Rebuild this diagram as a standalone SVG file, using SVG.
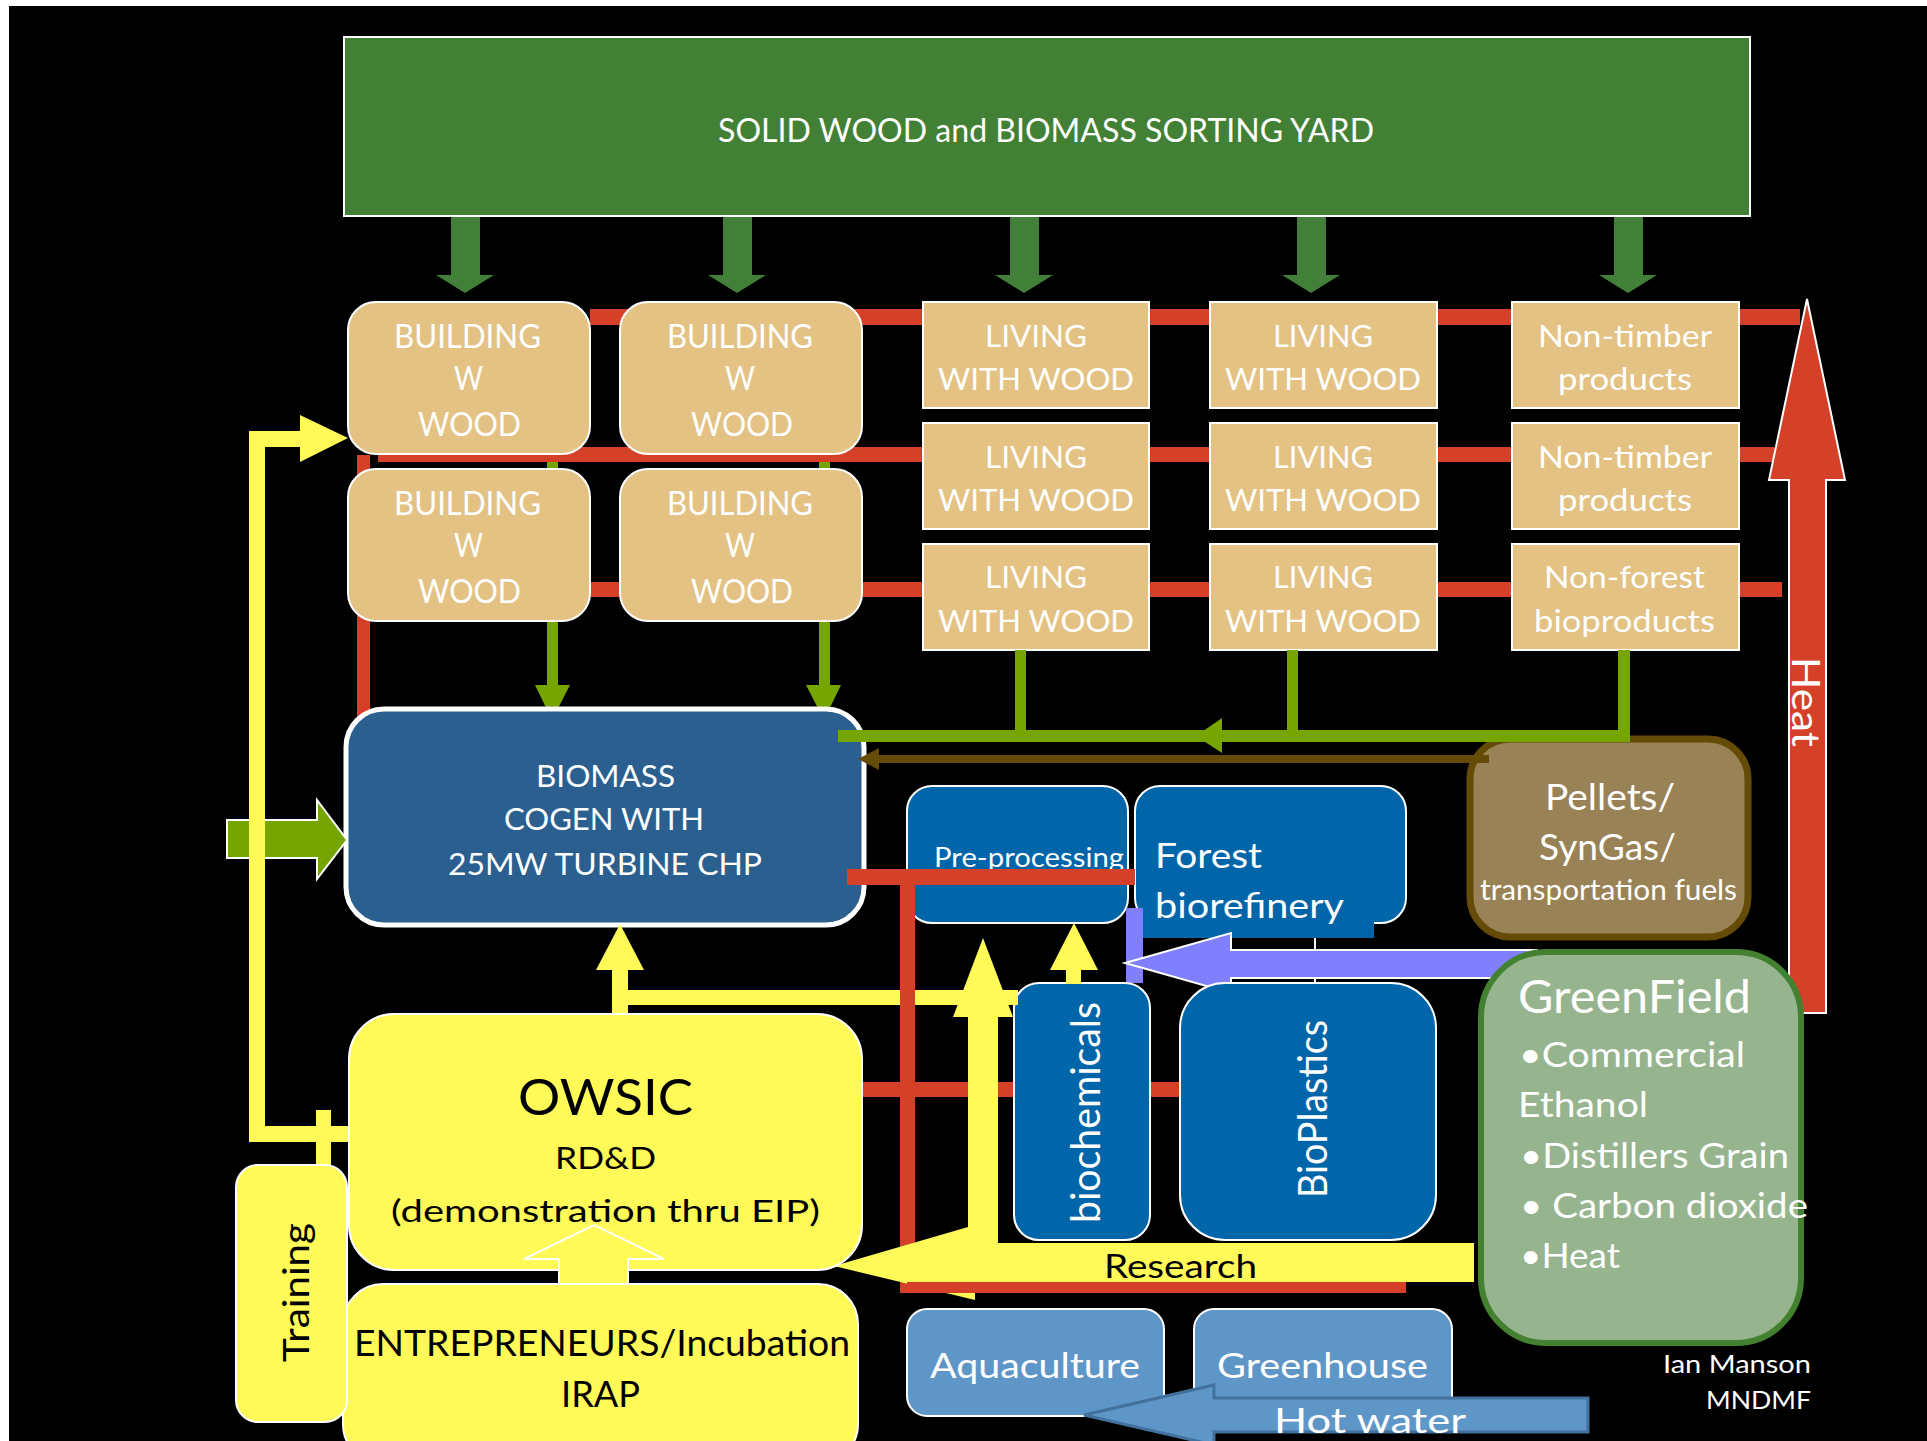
<svg xmlns="http://www.w3.org/2000/svg" width="1927" height="1441" viewBox="0 0 1927 1441">
<style>
text{font-family:Lato,"Open Sans","Liberation Sans",sans-serif;}
.w{fill:#fff;}
.k{fill:#000;}
.tan{fill:#E3C283;stroke:#fff;stroke-width:2;}
.blue{fill:#0065A9;stroke:#fff;stroke-width:2;}
.lblue{fill:#5F96C8;stroke:#fff;stroke-width:2;}
.yel{fill:#FFFA57;}
.red{fill:#D44128;}
.olive{fill:#76A500;}
.dg{fill:#42803A;}
</style>
<rect x="0" y="0" width="1927" height="1441" fill="#fff"/>
<rect x="9" y="6" width="1918" height="1435" fill="#000"/>

<g id="connectors">
  <!-- green yard arrows -->
  <g class="dg">
    <polygon points="451,216 480,216 480,275 494,275 465,293 436,275 451,275"/>
    <polygon points="723,216 752,216 752,275 766,275 737,293 708,275 723,275"/>
    <polygon points="1010,216 1039,216 1039,275 1053,275 1024,293 995,275 1010,275"/>
    <polygon points="1297,216 1326,216 1326,275 1340,275 1311,293 1282,275 1297,275"/>
    <polygon points="1614,216 1643,216 1643,275 1657,275 1628,293 1599,275 1614,275"/>
  </g>
  <!-- olive verticals from building boxes -->
  <g class="olive">
    <rect x="547" y="450" width="11" height="240"/>
    <polygon points="535,685 570,685 552,720"/>
    <rect x="819" y="450" width="11" height="240"/>
    <polygon points="806,685 841,685 824,720"/>
  </g>
  <!-- red heat lines -->
  <g class="red">
    <rect x="590" y="309" width="1210" height="16"/>
    <rect x="378" y="447" width="1412" height="15"/>
    <rect x="590" y="582" width="1192" height="15"/>
    <rect x="357" y="455" width="13" height="270"/>
  </g>
</g>

<g id="yard">
  <rect x="344" y="37" width="1406" height="179" fill="#428035" stroke="#fff" stroke-width="2"/>
  <text class="w" x="718" y="142" font-size="33" textLength="656" lengthAdjust="spacingAndGlyphs">SOLID WOOD and BIOMASS SORTING YARD</text>
</g>

<g id="building1">
  <rect class="tan" x="348" y="302" width="242" height="152" rx="28"/>
  <text class="w" font-size="32"><tspan x="394" y="348" textLength="147" lengthAdjust="spacingAndGlyphs">BUILDING</tspan><tspan x="454" y="390" textLength="29" lengthAdjust="spacingAndGlyphs">W</tspan><tspan x="418" y="436" textLength="103" lengthAdjust="spacingAndGlyphs">WOOD</tspan></text>
</g>
<g id="building2">
  <rect class="tan" x="620" y="302" width="242" height="152" rx="28"/>
  <text class="w" font-size="32"><tspan x="667" y="348" textLength="146" lengthAdjust="spacingAndGlyphs">BUILDING</tspan><tspan x="725" y="390" textLength="30" lengthAdjust="spacingAndGlyphs">W</tspan><tspan x="691" y="436" textLength="102" lengthAdjust="spacingAndGlyphs">WOOD</tspan></text>
</g>
<g id="building3">
  <rect class="tan" x="348" y="469" width="242" height="152" rx="28"/>
  <text class="w" font-size="32"><tspan x="394" y="515" textLength="147" lengthAdjust="spacingAndGlyphs">BUILDING</tspan><tspan x="454" y="557" textLength="29" lengthAdjust="spacingAndGlyphs">W</tspan><tspan x="418" y="603" textLength="103" lengthAdjust="spacingAndGlyphs">WOOD</tspan></text>
</g>
<g id="building4">
  <rect class="tan" x="620" y="469" width="242" height="152" rx="28"/>
  <text class="w" font-size="32"><tspan x="667" y="515" textLength="146" lengthAdjust="spacingAndGlyphs">BUILDING</tspan><tspan x="725" y="557" textLength="30" lengthAdjust="spacingAndGlyphs">W</tspan><tspan x="691" y="603" textLength="102" lengthAdjust="spacingAndGlyphs">WOOD</tspan></text>
</g>

<g id="living1">
  <rect class="tan" x="923" y="302" width="226" height="106"/>
  <text class="w" font-size="30"><tspan x="985" y="347" textLength="102" lengthAdjust="spacingAndGlyphs">LIVING</tspan><tspan x="938" y="390" textLength="196" lengthAdjust="spacingAndGlyphs">WITH WOOD</tspan></text>
</g>
<g id="living2">
  <rect class="tan" x="1210" y="302" width="227" height="106"/>
  <text class="w" font-size="30"><tspan x="1273" y="347" textLength="100" lengthAdjust="spacingAndGlyphs">LIVING</tspan><tspan x="1225" y="390" textLength="196" lengthAdjust="spacingAndGlyphs">WITH WOOD</tspan></text>
</g>
<g id="nontimber1">
  <rect class="tan" x="1512" y="302" width="227" height="106"/>
  <text class="w" font-size="30"><tspan x="1538" y="347" textLength="174" lengthAdjust="spacingAndGlyphs">Non-timber</tspan><tspan x="1558" y="390" textLength="134" lengthAdjust="spacingAndGlyphs">products</tspan></text>
</g>
<g id="living3">
  <rect class="tan" x="923" y="423" width="226" height="106"/>
  <text class="w" font-size="30"><tspan x="985" y="468" textLength="102" lengthAdjust="spacingAndGlyphs">LIVING</tspan><tspan x="938" y="511" textLength="196" lengthAdjust="spacingAndGlyphs">WITH WOOD</tspan></text>
</g>
<g id="living4">
  <rect class="tan" x="1210" y="423" width="227" height="106"/>
  <text class="w" font-size="30"><tspan x="1273" y="468" textLength="100" lengthAdjust="spacingAndGlyphs">LIVING</tspan><tspan x="1225" y="511" textLength="196" lengthAdjust="spacingAndGlyphs">WITH WOOD</tspan></text>
</g>
<g id="nontimber2">
  <rect class="tan" x="1512" y="423" width="227" height="106"/>
  <text class="w" font-size="30"><tspan x="1538" y="468" textLength="174" lengthAdjust="spacingAndGlyphs">Non-timber</tspan><tspan x="1558" y="511" textLength="134" lengthAdjust="spacingAndGlyphs">products</tspan></text>
</g>
<g id="living5">
  <rect class="tan" x="923" y="544" width="226" height="106"/>
  <text class="w" font-size="30"><tspan x="985" y="588" textLength="102" lengthAdjust="spacingAndGlyphs">LIVING</tspan><tspan x="938" y="632" textLength="196" lengthAdjust="spacingAndGlyphs">WITH WOOD</tspan></text>
</g>
<g id="living6">
  <rect class="tan" x="1210" y="544" width="227" height="106"/>
  <text class="w" font-size="30"><tspan x="1273" y="588" textLength="100" lengthAdjust="spacingAndGlyphs">LIVING</tspan><tspan x="1225" y="632" textLength="196" lengthAdjust="spacingAndGlyphs">WITH WOOD</tspan></text>
</g>
<g id="nonforest">
  <rect class="tan" x="1512" y="544" width="227" height="106"/>
  <text class="w" font-size="30"><tspan x="1544" y="588" textLength="161" lengthAdjust="spacingAndGlyphs">Non-forest</tspan><tspan x="1534" y="632" textLength="181" lengthAdjust="spacingAndGlyphs">bioproducts</tspan></text>
</g>

<g id="biomass">
  <rect x="346" y="709" width="518" height="216" rx="38" fill="#2A5F8F" stroke="#fff" stroke-width="5"/>
  <text class="w" font-size="30"><tspan x="536" y="787" textLength="139" lengthAdjust="spacingAndGlyphs">BIOMASS</tspan><tspan x="504" y="830" textLength="200" lengthAdjust="spacingAndGlyphs">COGEN WITH</tspan><tspan x="448" y="875" textLength="314" lengthAdjust="spacingAndGlyphs">25MW TURBINE CHP</tspan></text>
</g>

<g id="preprocessing">
  <rect class="blue" x="907" y="786" width="221" height="137" rx="25"/>
  <text class="w" x="934" y="867" font-size="27" textLength="190" lengthAdjust="spacingAndGlyphs">Pre-processing</text>
</g>
<g id="biorefinery">
  <rect class="blue" x="1135" y="786" width="271" height="137" rx="25"/>
  <rect x="1143" y="905" width="231" height="33" fill="#0065A9"/>
  <text class="w" font-size="35"><tspan x="1155" y="868" textLength="107" lengthAdjust="spacingAndGlyphs">Forest</tspan><tspan x="1155" y="918" textLength="189" lengthAdjust="spacingAndGlyphs">biorefinery</tspan></text>
</g>

<g id="pellets">
  <rect x="1470" y="739" width="278" height="198" rx="40" fill="#998256" stroke="#654B08" stroke-width="7"/>
  <text class="w"><tspan x="1545" y="810" font-size="37" textLength="130" lengthAdjust="spacingAndGlyphs">Pellets/</tspan><tspan x="1539" y="860" font-size="37" textLength="137" lengthAdjust="spacingAndGlyphs">SynGas/</tspan><tspan x="1480" y="900" font-size="29" textLength="257" lengthAdjust="spacingAndGlyphs">transportation fuels</tspan></text>
</g>

<g id="connectors2">
  <!-- olive collector line -->
  <g class="olive">
    <rect x="1015" y="650" width="11" height="92"/>
    <rect x="1287" y="650" width="11" height="92"/>
    <rect x="1618" y="650" width="12" height="92"/>
    <rect x="838" y="730" width="792" height="12"/>
    <polygon points="1196,736 1222,718 1222,753"/>
  </g>
  <!-- brown arrow -->
  <rect x="870" y="755" width="619" height="8" fill="#654B08"/>
  <polygon points="858,759 879,748 879,770" fill="#654B08"/>
  <!-- green big left arrow -->
  <polygon points="227,820 317,820 317,800 347,840 317,879 317,858 227,858" fill="#76A500" stroke="#fff" stroke-width="2"/>
  <!-- red line at pre-processing -->
  <rect class="red" x="847" y="869" width="288" height="16"/>
  <!-- red behind biochem/bioplastics -->
  <rect class="red" x="860" y="1082" width="320" height="15"/>
  <!-- lavender arrow -->
  <rect x="1126" y="908" width="17" height="75" fill="#7F7FFF"/>
  <line x1="1315" y1="938" x2="1315" y2="983" stroke="#fff" stroke-width="2"/>
  <polygon points="1125,963 1231,933 1231,950 1537,950 1537,978 1231,978 1231,993" fill="#7F7FFF" stroke="#fff" stroke-width="2"/>
</g>

<g id="biochemicals">
  <rect class="blue" x="1014" y="983" width="136" height="257" rx="25"/>
  <text class="w" font-size="40" transform="translate(1100,1223) rotate(-90)" x="0" y="0" textLength="221" lengthAdjust="spacingAndGlyphs">biochemicals</text>
</g>
<g id="bioplastics">
  <rect class="blue" x="1180" y="983" width="256" height="257" rx="45"/>
  <text class="w" font-size="40" transform="translate(1327,1198) rotate(-90)" x="0" y="0" textLength="178" lengthAdjust="spacingAndGlyphs">BioPlastics</text>
</g>

<g id="yellow-connectors">
  <!-- left feedback line -->
  <g class="yel">
    <rect x="249" y="431" width="16" height="711"/>
    <rect x="249" y="431" width="53" height="16"/>
    <polygon points="300,415 348,438 300,462"/>
    <rect x="249" y="1126" width="100" height="16"/>
    <rect x="316" y="1110" width="15" height="55"/>
    <!-- OWSIC to biomass -->
    <rect x="612" y="968" width="16" height="48"/>
    <polygon points="596,970 620,924 644,970"/>
    <rect x="612" y="990" width="406" height="15"/>
    <!-- small arrow to pre-processing -->
    <rect x="1066" y="968" width="15" height="16"/>
    <polygon points="1050,970 1074,923 1098,970"/>
  </g>
  <!-- red vertical -->
  <rect class="red" x="900" y="869" width="15" height="424"/>
  <!-- research arrow with up branch -->
  <polygon class="yel" points="834,1266 968,1227 968,1017 953,1017 983,938 1013,1017 998,1017 998,1243 1474,1243 1474,1282 975,1282 975,1300"/>
  <text class="k" x="1104" y="1278" font-size="32" textLength="153" lengthAdjust="spacingAndGlyphs">Research</text>
  <!-- bottom red line -->
  <rect class="red" x="907" y="1282" width="499" height="11"/>
</g>

<g id="owsic">
  <rect class="yel" x="349" y="1014" width="513" height="256" rx="45" stroke="#fff" stroke-width="2"/>
  <text class="k"><tspan x="518" y="1115" font-size="51" textLength="175" lengthAdjust="spacingAndGlyphs">OWSIC</tspan><tspan x="555" y="1169" font-size="31" textLength="101" lengthAdjust="spacingAndGlyphs">RD&amp;D</tspan><tspan x="391" y="1222" font-size="31" textLength="429" lengthAdjust="spacingAndGlyphs">(demonstration thru EIP)</tspan></text>
</g>
<g id="entrepreneurs">
  <rect class="yel" x="343" y="1284" width="515" height="180" rx="40" stroke="#fff" stroke-width="2"/>
  <text class="k" font-size="36"><tspan x="354" y="1356" textLength="496" lengthAdjust="spacingAndGlyphs">ENTREPRENEURS/Incubation</tspan><tspan x="561" y="1407" textLength="79" lengthAdjust="spacingAndGlyphs">IRAP</tspan></text>
</g>
<polygon class="yel" points="559,1284 559,1259 524,1259 594,1225 664,1259 628,1259 628,1284" stroke="#fff" stroke-width="2"/>
<g id="training">
  <rect class="yel" x="236" y="1165" width="111" height="257" rx="22" stroke="#fff" stroke-width="2"/>
  <text class="k" font-size="37" transform="translate(309,1362) rotate(-90)" x="0" y="0" textLength="139" lengthAdjust="spacingAndGlyphs">Training</text>
</g>

<g id="aquaculture">
  <rect class="lblue" x="907" y="1309" width="257" height="107" rx="20"/>
  <text class="w" x="930" y="1378" font-size="35" textLength="210" lengthAdjust="spacingAndGlyphs">Aquaculture</text>
</g>
<g id="greenhouse">
  <rect class="lblue" x="1194" y="1309" width="258" height="107" rx="20"/>
  <text class="w" x="1217" y="1378" font-size="35" textLength="211" lengthAdjust="spacingAndGlyphs">Greenhouse</text>
</g>
<g id="hotwater">
  <polygon points="1084,1415 1214,1385 1214,1398 1588,1398 1588,1432 1214,1432 1214,1445" fill="#5F96C8" stroke="#41719C" stroke-width="3"/>
  <text class="w" x="1274" y="1433" font-size="35" textLength="192" lengthAdjust="spacingAndGlyphs">Hot water</text>
</g>

<g id="heat">
  <polygon points="1807,299 1845,480 1826,480 1826,1013 1789,1013 1789,480 1769,480" fill="#D44128" stroke="#fff" stroke-width="2"/>
  <text class="w" font-size="39" transform="translate(1792,657) rotate(90)" x="0" y="0" textLength="90" lengthAdjust="spacingAndGlyphs">Heat</text>
</g>

<g id="greenfield">
  <rect x="1481" y="952" width="320" height="391" rx="65" fill="#96B48E" stroke="#43802F" stroke-width="6"/>
  <text class="w"><tspan x="1518" y="1013" font-size="46" textLength="233" lengthAdjust="spacingAndGlyphs">GreenField</tspan><tspan x="1519" y="1067" font-size="35" textLength="226" lengthAdjust="spacingAndGlyphs">•Commercial</tspan><tspan x="1518" y="1117" font-size="35" textLength="130" lengthAdjust="spacingAndGlyphs">Ethanol</tspan><tspan x="1520" y="1168" font-size="35" textLength="269" lengthAdjust="spacingAndGlyphs">•Distillers Grain</tspan><tspan x="1520" y="1218" font-size="35" textLength="288" lengthAdjust="spacingAndGlyphs">• Carbon dioxide</tspan><tspan x="1520" y="1268" font-size="35" textLength="100" lengthAdjust="spacingAndGlyphs">•Heat</tspan></text>
</g>

<g id="credit">
  <text class="w" font-size="25"><tspan x="1663" y="1373" textLength="148" lengthAdjust="spacingAndGlyphs">Ian Manson</tspan><tspan x="1706" y="1409" textLength="105" lengthAdjust="spacingAndGlyphs">MNDMF</tspan></text>
</g>
</svg>
